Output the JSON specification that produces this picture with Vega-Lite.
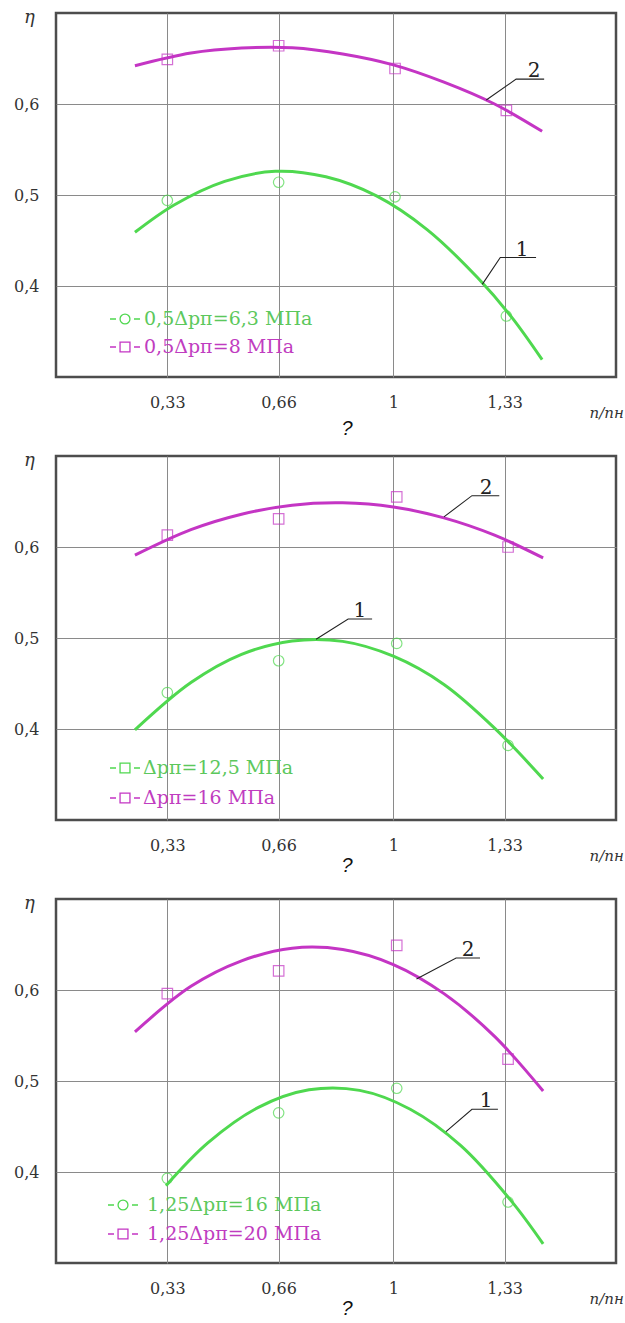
{
  "$schema": "https://vega.github.io/schema/vega-lite/v6.json",
  "background": "white",
  "padding": {"left": 12, "top": 6, "right": 2, "bottom": 2},
  "bounds": "flush",
  "spacing": 79,
  "resolve": {"scale": {"color": "independent", "shape": "independent"}, "legend": {"color": "independent", "shape": "independent"}},
  "config": {
    "view": {"stroke": "#4d4d4d", "strokeWidth": 2.5},
    "axis": {"domain": false, "ticks": false, "labelFont": "DejaVu Serif", "labelFontSize": 16, "labelColor": "#333", "labelPadding": 17, "gridColor": "#8a8a8a", "gridWidth": 1, "gridOpacity": 1, "titleFont": "DejaVu Serif", "titleFontWeight": "normal", "titleColor": "#333", "titleFontSize": 15, "titleFontStyle": "italic"},
    "legend": {"labelFont": "DejaVu Serif"},
    "text": {"font": "DejaVu Serif"},
    "title": {"font": "Liberation Sans", "fontStyle": "italic", "fontSize": 20, "fontWeight": "normal", "color": "#111"}
  },
  "datasets": {
    "curves": [
      {"panel": 1, "series": "0,5Δpп=6,3 МПа", "x": 0.234, "y": 0.459},
      {"panel": 1, "series": "0,5Δpп=6,3 МПа", "x": 0.35, "y": 0.489},
      {"panel": 1, "series": "0,5Δpп=6,3 МПа", "x": 0.5, "y": 0.515},
      {"panel": 1, "series": "0,5Δpп=6,3 МПа", "x": 0.65, "y": 0.526},
      {"panel": 1, "series": "0,5Δpп=6,3 МПа", "x": 0.8, "y": 0.520},
      {"panel": 1, "series": "0,5Δpп=6,3 МПа", "x": 0.95, "y": 0.499},
      {"panel": 1, "series": "0,5Δpп=6,3 МПа", "x": 1.1, "y": 0.462},
      {"panel": 1, "series": "0,5Δpп=6,3 МПа", "x": 1.25, "y": 0.409},
      {"panel": 1, "series": "0,5Δpп=6,3 МПа", "x": 1.35, "y": 0.366},
      {"panel": 1, "series": "0,5Δpп=6,3 МПа", "x": 1.441, "y": 0.319},
      {"panel": 1, "series": "0,5Δpп=8 МПа", "x": 0.234, "y": 0.642},
      {"panel": 1, "series": "0,5Δpп=8 МПа", "x": 0.4, "y": 0.656},
      {"panel": 1, "series": "0,5Δpп=8 МПа", "x": 0.55, "y": 0.6615},
      {"panel": 1, "series": "0,5Δpп=8 МПа", "x": 0.7, "y": 0.6618},
      {"panel": 1, "series": "0,5Δpп=8 МПа", "x": 0.85, "y": 0.655},
      {"panel": 1, "series": "0,5Δpп=8 МПа", "x": 1.0, "y": 0.643},
      {"panel": 1, "series": "0,5Δpп=8 МПа", "x": 1.15, "y": 0.624},
      {"panel": 1, "series": "0,5Δpп=8 МПа", "x": 1.3, "y": 0.600},
      {"panel": 1, "series": "0,5Δpп=8 МПа", "x": 1.441, "y": 0.570},
      {"panel": 2, "series": "Δpп=12,5 МПа", "x": 0.234, "y": 0.399},
      {"panel": 2, "series": "Δpп=12,5 МПа", "x": 0.4, "y": 0.451},
      {"panel": 2, "series": "Δpп=12,5 МПа", "x": 0.55, "y": 0.482},
      {"panel": 2, "series": "Δpп=12,5 МПа", "x": 0.7, "y": 0.4968},
      {"panel": 2, "series": "Δpп=12,5 МПа", "x": 0.85, "y": 0.4963},
      {"panel": 2, "series": "Δpп=12,5 МПа", "x": 1.0, "y": 0.480},
      {"panel": 2, "series": "Δpп=12,5 МПа", "x": 1.15, "y": 0.449},
      {"panel": 2, "series": "Δpп=12,5 МПа", "x": 1.3, "y": 0.401},
      {"panel": 2, "series": "Δpп=12,5 МПа", "x": 1.444, "y": 0.345},
      {"panel": 2, "series": "Δpп=16 МПа", "x": 0.234, "y": 0.591},
      {"panel": 2, "series": "Δpп=16 МПа", "x": 0.4, "y": 0.619},
      {"panel": 2, "series": "Δpп=16 МПа", "x": 0.55, "y": 0.636},
      {"panel": 2, "series": "Δpп=16 МПа", "x": 0.7, "y": 0.646},
      {"panel": 2, "series": "Δpп=16 МПа", "x": 0.85, "y": 0.6485},
      {"panel": 2, "series": "Δpп=16 МПа", "x": 1.0, "y": 0.644},
      {"panel": 2, "series": "Δpп=16 МПа", "x": 1.15, "y": 0.632},
      {"panel": 2, "series": "Δpп=16 МПа", "x": 1.3, "y": 0.613},
      {"panel": 2, "series": "Δpп=16 МПа", "x": 1.444, "y": 0.588},
      {"panel": 3, "series": "1,25Δpп=16 МПа", "x": 0.326, "y": 0.385},
      {"panel": 3, "series": "1,25Δpп=16 МПа", "x": 0.45, "y": 0.432},
      {"panel": 3, "series": "1,25Δpп=16 МПа", "x": 0.6, "y": 0.471},
      {"panel": 3, "series": "1,25Δpп=16 МПа", "x": 0.75, "y": 0.4903},
      {"panel": 3, "series": "1,25Δpп=16 МПа", "x": 0.9, "y": 0.4897},
      {"panel": 3, "series": "1,25Δpп=16 МПа", "x": 1.05, "y": 0.469},
      {"panel": 3, "series": "1,25Δpп=16 МПа", "x": 1.2, "y": 0.429},
      {"panel": 3, "series": "1,25Δpп=16 МПа", "x": 1.35, "y": 0.368},
      {"panel": 3, "series": "1,25Δpп=16 МПа", "x": 1.444, "y": 0.321},
      {"panel": 3, "series": "1,25Δpп=20 МПа", "x": 0.234, "y": 0.554},
      {"panel": 3, "series": "1,25Δpп=20 МПа", "x": 0.4, "y": 0.604},
      {"panel": 3, "series": "1,25Δpп=20 МПа", "x": 0.55, "y": 0.632},
      {"panel": 3, "series": "1,25Δpп=20 МПа", "x": 0.7, "y": 0.646},
      {"panel": 3, "series": "1,25Δpп=20 МПа", "x": 0.85, "y": 0.6445},
      {"panel": 3, "series": "1,25Δpп=20 МПа", "x": 1.0, "y": 0.628},
      {"panel": 3, "series": "1,25Δpп=20 МПа", "x": 1.15, "y": 0.596},
      {"panel": 3, "series": "1,25Δpп=20 МПа", "x": 1.3, "y": 0.549},
      {"panel": 3, "series": "1,25Δpп=20 МПа", "x": 1.444, "y": 0.489}
    ],
    "points": [
      {"panel": 1, "series": "0,5Δpп=6,3 МПа", "x": 0.33, "y": 0.494},
      {"panel": 1, "series": "0,5Δpп=6,3 МПа", "x": 0.66, "y": 0.514},
      {"panel": 1, "series": "0,5Δpп=6,3 МПа", "x": 1.005, "y": 0.498},
      {"panel": 1, "series": "0,5Δpп=6,3 МПа", "x": 1.335, "y": 0.367},
      {"panel": 1, "series": "0,5Δpп=8 МПа", "x": 0.33, "y": 0.649},
      {"panel": 1, "series": "0,5Δpп=8 МПа", "x": 0.66, "y": 0.664},
      {"panel": 1, "series": "0,5Δpп=8 МПа", "x": 1.005, "y": 0.639},
      {"panel": 1, "series": "0,5Δpп=8 МПа", "x": 1.335, "y": 0.593},
      {"panel": 2, "series": "Δpп=12,5 МПа", "x": 0.33, "y": 0.440},
      {"panel": 2, "series": "Δpп=12,5 МПа", "x": 0.66, "y": 0.475},
      {"panel": 2, "series": "Δpп=12,5 МПа", "x": 1.01, "y": 0.494},
      {"panel": 2, "series": "Δpп=12,5 МПа", "x": 1.34, "y": 0.382},
      {"panel": 2, "series": "Δpп=16 МПа", "x": 0.33, "y": 0.613},
      {"panel": 2, "series": "Δpп=16 МПа", "x": 0.66, "y": 0.631},
      {"panel": 2, "series": "Δpп=16 МПа", "x": 1.01, "y": 0.655},
      {"panel": 2, "series": "Δpп=16 МПа", "x": 1.34, "y": 0.600},
      {"panel": 3, "series": "1,25Δpп=16 МПа", "x": 0.33, "y": 0.393},
      {"panel": 3, "series": "1,25Δpп=16 МПа", "x": 0.66, "y": 0.465},
      {"panel": 3, "series": "1,25Δpп=16 МПа", "x": 1.01, "y": 0.492},
      {"panel": 3, "series": "1,25Δpп=16 МПа", "x": 1.34, "y": 0.367},
      {"panel": 3, "series": "1,25Δpп=20 МПа", "x": 0.33, "y": 0.596},
      {"panel": 3, "series": "1,25Δpп=20 МПа", "x": 0.66, "y": 0.621},
      {"panel": 3, "series": "1,25Δpп=20 МПа", "x": 1.01, "y": 0.649},
      {"panel": 3, "series": "1,25Δpп=20 МПа", "x": 1.34, "y": 0.524}
    ],
    "leaders": [
      {"panel": 1, "id": "2", "o": 0, "x": 1.2755, "y": 0.6044},
      {"panel": 1, "id": "2", "o": 1, "x": 1.364, "y": 0.6273},
      {"panel": 1, "id": "2", "o": 2, "x": 1.447, "y": 0.6273},
      {"panel": 1, "id": "1", "o": 0, "x": 1.2636, "y": 0.4018},
      {"panel": 1, "id": "1", "o": 1, "x": 1.317, "y": 0.4313},
      {"panel": 1, "id": "1", "o": 2, "x": 1.423, "y": 0.4313},
      {"panel": 2, "id": "2", "o": 0, "x": 1.150, "y": 0.6331},
      {"panel": 2, "id": "2", "o": 1, "x": 1.233, "y": 0.6564},
      {"panel": 2, "id": "2", "o": 2, "x": 1.314, "y": 0.6564},
      {"panel": 2, "id": "1", "o": 0, "x": 0.771, "y": 0.4987},
      {"panel": 2, "id": "1", "o": 1, "x": 0.866, "y": 0.5208},
      {"panel": 2, "id": "1", "o": 2, "x": 0.937, "y": 0.5208},
      {"panel": 3, "id": "2", "o": 0, "x": 1.0686, "y": 0.6122},
      {"panel": 3, "id": "2", "o": 1, "x": 1.186, "y": 0.6351},
      {"panel": 3, "id": "2", "o": 2, "x": 1.257, "y": 0.6351},
      {"panel": 3, "id": "1", "o": 0, "x": 1.156, "y": 0.4443},
      {"panel": 3, "id": "1", "o": 1, "x": 1.233, "y": 0.469},
      {"panel": 3, "id": "1", "o": 2, "x": 1.310, "y": 0.469}
    ],
    "labels": [
      {"panel": 1, "label": "2", "x": 1.4175, "y": 0.6273},
      {"panel": 1, "label": "1", "x": 1.382, "y": 0.4313},
      {"panel": 2, "label": "2", "x": 1.2746, "y": 0.6564},
      {"panel": 2, "label": "1", "x": 0.901, "y": 0.5208},
      {"panel": 3, "label": "2", "x": 1.2213, "y": 0.6351},
      {"panel": 3, "label": "1", "x": 1.2746, "y": 0.469}
    ]
  },
  "vconcat": [
    {
      "width": 560, "height": 364,
      "title": {"text": "?", "orient": "bottom", "anchor": "middle", "frame": "group", "dx": 11, "offset": -1, "baseline": "top"},
      "encoding": {
        "x": {"field": "x", "type": "quantitative", "scale": {"domain": [0, 1.66], "nice": false, "zero": false}, "axis": {"values": [0.33, 0.66, 1, 1.33], "format": ".2~f", "labelExpr": "replace(datum.label, '.', ',')", "title": "n/nн", "titleX": 533, "titleY": 40, "titleAlign": "left", "titleBaseline": "alphabetic"}},
        "y": {"field": "y", "type": "quantitative", "scale": {"domain": [0.3, 0.7], "nice": false, "zero": false}, "axis": {"values": [0.4, 0.5, 0.6], "format": ".1f", "labelExpr": "replace(datum.label, '.', ',')", "title": "η", "titleAngle": 0, "titleX": -27, "titleY": 9, "titleAlign": "center", "titleBaseline": "alphabetic", "titleFontSize": 18}}
      },
      "layer": [
        {"data": {"name": "curves"}, "transform": [{"filter": "datum.panel == 1"}], "mark": {"type": "line", "interpolate": "catmull-rom", "strokeWidth": 3},
          "encoding": {"color": {"field": "series", "type": "nominal", "scale": {"range": ["#4fd84f", "#c435c4"]}, "legend": {"orient": "none", "legendX": 53, "legendY": 290, "title": null, "padding": 0, "symbolSize": 900, "symbolStrokeWidth": 1.3, "labelFontSize": 19, "labelOffset": 3, "rowPadding": 2, "labelLimit": 0,
              "encode": {"labels": {"update": {"fill": {"signal": "datum.index === 0 ? '#5cc85c' : '#c03cc0'"}}}, "symbols": {"update": {"shape": {"signal": "datum.index === 0 ? 'M-1,0H-0.6M0.6,0H1M0.33,0A0.33,0.33,0,1,1,-0.33,0A0.33,0.33,0,1,1,0.33,0' : 'M-1,0H-0.6M0.6,0H1M-0.33,-0.33H0.33V0.33H-0.33Z'"}, "size": {"value": 900}, "strokeWidth": {"value": 1.3}}}}}}}},
        {"data": {"name": "points"}, "transform": [{"filter": "datum.panel == 1"}], "mark": {"type": "point", "filled": false, "size": 110, "strokeWidth": 1.2},
          "encoding": {
            "color": {"field": "series", "type": "nominal", "scale": {"range": ["#4fd84f", "#c435c4"]}, "legend": {"orient": "none", "legendX": 53, "legendY": 290, "title": null, "padding": 0, "symbolSize": 900, "symbolStrokeWidth": 1.3, "labelFontSize": 19, "labelOffset": 3, "rowPadding": 2, "labelLimit": 0,
              "encode": {"labels": {"update": {"fill": {"signal": "datum.index === 0 ? '#5cc85c' : '#c03cc0'"}}}, "symbols": {"update": {"shape": {"signal": "datum.index === 0 ? 'M-1,0H-0.6M0.6,0H1M0.33,0A0.33,0.33,0,1,1,-0.33,0A0.33,0.33,0,1,1,0.33,0' : 'M-1,0H-0.6M0.6,0H1M-0.33,-0.33H0.33V0.33H-0.33Z'"}, "size": {"value": 900}, "strokeWidth": {"value": 1.3}}}}}},
            "shape": {"field": "series", "type": "nominal", "scale": {"range": ["circle", "square"]}, "legend": null}
          }},
        {"data": {"name": "leaders"}, "transform": [{"filter": "datum.panel == 1"}], "mark": {"type": "line", "color": "#222", "strokeWidth": 1.1}, "encoding": {"detail": {"field": "id"}, "order": {"field": "o"}}},
        {"data": {"name": "labels"}, "transform": [{"filter": "datum.panel == 1"}], "mark": {"type": "text", "fontSize": 20, "align": "center", "baseline": "alphabetic", "dy": -2, "color": "#222"}, "encoding": {"text": {"field": "label"}}}
      ]
    },
    {
      "width": 560, "height": 364,
      "title": {"text": "?", "orient": "bottom", "anchor": "middle", "frame": "group", "dx": 11, "offset": -7, "baseline": "top"},
      "encoding": {
        "x": {"field": "x", "type": "quantitative", "scale": {"domain": [0, 1.66], "nice": false, "zero": false}, "axis": {"values": [0.33, 0.66, 1, 1.33], "format": ".2~f", "labelExpr": "replace(datum.label, '.', ',')", "title": "n/nн", "titleX": 533, "titleY": 40, "titleAlign": "left", "titleBaseline": "alphabetic"}},
        "y": {"field": "y", "type": "quantitative", "scale": {"domain": [0.3, 0.7], "nice": false, "zero": false}, "axis": {"values": [0.4, 0.5, 0.6], "format": ".1f", "labelExpr": "replace(datum.label, '.', ',')", "title": "η", "titleAngle": 0, "titleX": -27, "titleY": 9, "titleAlign": "center", "titleBaseline": "alphabetic", "titleFontSize": 18}}
      },
      "layer": [
        {"data": {"name": "curves"}, "transform": [{"filter": "datum.panel == 2"}], "mark": {"type": "line", "interpolate": "catmull-rom", "strokeWidth": 3},
          "encoding": {"color": {"field": "series", "type": "nominal", "scale": {"range": ["#4fd84f", "#c435c4"]}, "legend": {"orient": "none", "legendX": 53, "legendY": 296, "title": null, "padding": 0, "symbolSize": 900, "symbolStrokeWidth": 1.3, "labelFontSize": 19, "labelOffset": 2, "rowPadding": 4, "labelLimit": 0,
              "encode": {"labels": {"update": {"fill": {"signal": "datum.index === 0 ? '#5cc85c' : '#c03cc0'"}}}, "symbols": {"update": {"shape": {"signal": "'M-1,0H-0.6M0.6,0H1M-0.33,-0.33H0.33V0.33H-0.33Z'"}, "size": {"value": 900}, "strokeWidth": {"value": 1.3}}}}}}}},
        {"data": {"name": "points"}, "transform": [{"filter": "datum.panel == 2"}], "mark": {"type": "point", "filled": false, "size": 110, "strokeWidth": 1.2},
          "encoding": {
            "color": {"field": "series", "type": "nominal", "scale": {"range": ["#4fd84f", "#c435c4"]}, "legend": {"orient": "none", "legendX": 53, "legendY": 296, "title": null, "padding": 0, "symbolSize": 900, "symbolStrokeWidth": 1.3, "labelFontSize": 19, "labelOffset": 2, "rowPadding": 4, "labelLimit": 0,
              "encode": {"labels": {"update": {"fill": {"signal": "datum.index === 0 ? '#5cc85c' : '#c03cc0'"}}}, "symbols": {"update": {"shape": {"signal": "'M-1,0H-0.6M0.6,0H1M-0.33,-0.33H0.33V0.33H-0.33Z'"}, "size": {"value": 900}, "strokeWidth": {"value": 1.3}}}}}},
            "shape": {"field": "series", "type": "nominal", "scale": {"range": ["circle", "square"]}, "legend": null}
          }},
        {"data": {"name": "leaders"}, "transform": [{"filter": "datum.panel == 2"}], "mark": {"type": "line", "color": "#222", "strokeWidth": 1.1}, "encoding": {"detail": {"field": "id"}, "order": {"field": "o"}}},
        {"data": {"name": "labels"}, "transform": [{"filter": "datum.panel == 2"}], "mark": {"type": "text", "fontSize": 20, "align": "center", "baseline": "alphabetic", "dy": -2, "color": "#222"}, "encoding": {"text": {"field": "label"}}}
      ]
    },
    {
      "width": 560, "height": 364,
      "title": {"text": "?", "orient": "bottom", "anchor": "middle", "frame": "group", "dx": 11, "offset": -7, "baseline": "top"},
      "encoding": {
        "x": {"field": "x", "type": "quantitative", "scale": {"domain": [0, 1.66], "nice": false, "zero": false}, "axis": {"values": [0.33, 0.66, 1, 1.33], "format": ".2~f", "labelExpr": "replace(datum.label, '.', ',')", "title": "n/nн", "titleX": 533, "titleY": 40, "titleAlign": "left", "titleBaseline": "alphabetic"}},
        "y": {"field": "y", "type": "quantitative", "scale": {"domain": [0.3, 0.7], "nice": false, "zero": false}, "axis": {"values": [0.4, 0.5, 0.6], "format": ".1f", "labelExpr": "replace(datum.label, '.', ',')", "title": "η", "titleAngle": 0, "titleX": -27, "titleY": 9, "titleAlign": "center", "titleBaseline": "alphabetic", "titleFontSize": 18}}
      },
      "layer": [
        {"data": {"name": "curves"}, "transform": [{"filter": "datum.panel == 3"}], "mark": {"type": "line", "interpolate": "catmull-rom", "strokeWidth": 3},
          "encoding": {"color": {"field": "series", "type": "nominal", "scale": {"range": ["#4fd84f", "#c435c4"]}, "legend": {"orient": "none", "legendX": 51, "legendY": 290, "title": null, "padding": 0, "symbolSize": 900, "symbolStrokeWidth": 1.3, "labelFontSize": 19, "labelOffset": 8, "rowPadding": 3, "labelLimit": 0,
              "encode": {"labels": {"update": {"fill": {"signal": "datum.index === 0 ? '#5cc85c' : '#c03cc0'"}}}, "symbols": {"update": {"shape": {"signal": "datum.index === 0 ? 'M-1,0H-0.6M0.6,0H1M0.33,0A0.33,0.33,0,1,1,-0.33,0A0.33,0.33,0,1,1,0.33,0' : 'M-1,0H-0.6M0.6,0H1M-0.33,-0.33H0.33V0.33H-0.33Z'"}, "size": {"value": 900}, "strokeWidth": {"value": 1.3}}}}}}}},
        {"data": {"name": "points"}, "transform": [{"filter": "datum.panel == 3"}], "mark": {"type": "point", "filled": false, "size": 110, "strokeWidth": 1.2},
          "encoding": {
            "color": {"field": "series", "type": "nominal", "scale": {"range": ["#4fd84f", "#c435c4"]}, "legend": {"orient": "none", "legendX": 51, "legendY": 290, "title": null, "padding": 0, "symbolSize": 900, "symbolStrokeWidth": 1.3, "labelFontSize": 19, "labelOffset": 8, "rowPadding": 3, "labelLimit": 0,
              "encode": {"labels": {"update": {"fill": {"signal": "datum.index === 0 ? '#5cc85c' : '#c03cc0'"}}}, "symbols": {"update": {"shape": {"signal": "datum.index === 0 ? 'M-1,0H-0.6M0.6,0H1M0.33,0A0.33,0.33,0,1,1,-0.33,0A0.33,0.33,0,1,1,0.33,0' : 'M-1,0H-0.6M0.6,0H1M-0.33,-0.33H0.33V0.33H-0.33Z'"}, "size": {"value": 900}, "strokeWidth": {"value": 1.3}}}}}},
            "shape": {"field": "series", "type": "nominal", "scale": {"range": ["circle", "square"]}, "legend": null}
          }},
        {"data": {"name": "leaders"}, "transform": [{"filter": "datum.panel == 3"}], "mark": {"type": "line", "color": "#222", "strokeWidth": 1.1}, "encoding": {"detail": {"field": "id"}, "order": {"field": "o"}}},
        {"data": {"name": "labels"}, "transform": [{"filter": "datum.panel == 3"}], "mark": {"type": "text", "fontSize": 20, "align": "center", "baseline": "alphabetic", "dy": -2, "color": "#222"}, "encoding": {"text": {"field": "label"}}}
      ]
    }
  ]
}
